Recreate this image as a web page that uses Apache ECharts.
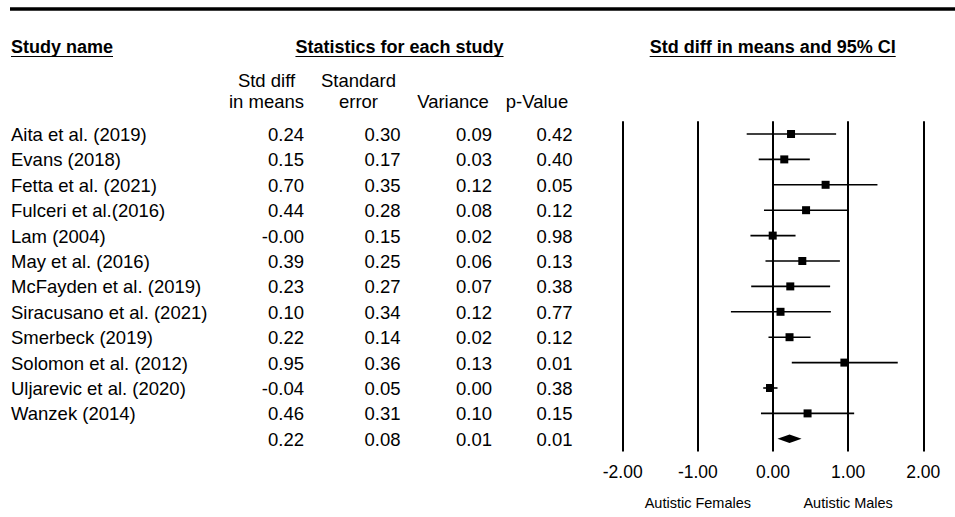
<!DOCTYPE html>
<html><head><meta charset="utf-8">
<script src="https://cdn.jsdelivr.net/npm/echarts@6/dist/echarts.min.js"></script>
<style>html,body{margin:0;padding:0;background:#fff}#c{width:955px;height:517px}</style>
</head><body><div id="c"></div>
<script>
// ---- data ----
const studies = ['Aita et al. (2019)','Evans (2018)','Fetta et al. (2021)','Fulceri et al.(2016)','Lam (2004)','May et al. (2016)','McFayden et al. (2019)','Siracusano et al. (2021)','Smerbeck (2019)','Solomon et al. (2012)','Uljarevic et al. (2020)','Wanzek (2014)'];
const stdDiff  = [0.24, 0.15, 0.70, 0.44, -0.004, 0.39, 0.23, 0.10, 0.22, 0.95, -0.04, 0.46];
const stdErr   = [0.30, 0.17, 0.35, 0.28, 0.15, 0.25, 0.27, 0.34, 0.14, 0.36, 0.05, 0.31];
const variance = [0.09, 0.03, 0.12, 0.08, 0.02, 0.06, 0.07, 0.12, 0.02, 0.13, 0.00, 0.10];
const pValue   = [0.42, 0.40, 0.05, 0.12, 0.98, 0.13, 0.38, 0.77, 0.12, 0.01, 0.38, 0.15];
const ciLower  = [-0.35, -0.19, 0.01, -0.12, -0.30, -0.10, -0.29, -0.56, -0.06, 0.25, -0.13, -0.16];
const ciUpper  = [0.84, 0.49, 1.39, 1.00, 0.30, 0.89, 0.76, 0.77, 0.50, 1.66, 0.06, 1.08];
const summaryStats = [0.22, 0.08, 0.01, 0.01]; // std diff, SE, variance, p
const summaryCI = [0.06, 0.38];
const xTicks = [-2, -1, 0, 1, 2];
const footerLabels = ['Autistic Females', 'Autistic Males'];
const footerAt = [-1, 1];
const headers = ['Study name', 'Statistics for each study', 'Std diff in means and 95% CI'];
const colHeaders = [['Std diff', 'in means'], ['Standard', 'error'], ['', 'Variance'], ['', 'p-Value']];

// ---- chart ----
const FONT = '"Liberation Sans", Arial, sans-serif';
const chart = echarts.init(document.getElementById('c'), null, {renderer: 'svg'});
const nRows = studies.length + 1;

const studyData = studies.map((s, i) => [i, stdDiff[i], ciLower[i], ciUpper[i]]);
const sumData = [[studies.length, summaryStats[0], summaryCI[0], summaryCI[1]]];

chart.setOption({
  animation: false,
  backgroundColor: '#fff',
  grid: {left: 622.7, right: 31.7, top: 121.3, bottom: 65.5},
  xAxis: {
    type: 'value', min: xTicks[0], max: xTicks[xTicks.length - 1], interval: 1,
    axisLine: {show: false}, axisTick: {show: false},
    splitLine: {show: true, lineStyle: {color: '#000', width: 2}},
    axisLabel: {color: '#000', fontFamily: FONT, fontSize: 17.5, margin: 11,
      formatter: v => v.toFixed(2)}
  },
  yAxis: {
    type: 'value', min: -0.5, max: nRows - 0.5, inverse: true,
    show: false, splitLine: {show: false}
  },
  series: [
    {
      type: 'custom', data: studyData, encode: {x: [1, 2, 3], y: 0},
      renderItem(params, api) {
        const r = api.value(0);
        const a = api.coord([api.value(2), r]);
        const b = api.coord([api.value(3), r]);
        const c = api.coord([api.value(1), r]);
        return {type: 'group', children: [
          {type: 'line', shape: {x1: a[0], y1: a[1], x2: b[0], y2: b[1]}, style: {stroke: '#000', lineWidth: 1.6}},
          {type: 'rect', shape: {x: c[0] - 4, y: c[1] - 4, width: 8, height: 8}, style: {fill: '#000'}}
        ]};
      }
    },
    {
      type: 'custom', data: sumData, encode: {x: [1, 2, 3], y: 0},
      renderItem(params, api) {
        const r = api.value(0);
        const a = api.coord([api.value(2), r]);
        const b = api.coord([api.value(3), r]);
        const c = api.coord([api.value(1), r]);
        return {type: 'polygon', shape: {points: [[a[0], a[1]], [c[0], c[1] - 4.2], [b[0], b[1]], [c[0], c[1] + 4.2]]},
          style: {fill: '#000'}};
      }
    }
  ]
});

// ---- table text, aligned with the plot rows ----
const ctx = document.createElement('canvas').getContext('2d');
function tw(text, font) { ctx.font = font; return ctx.measureText(text).width; }
function txt(text, x, y, align, size, bold) {
  const font = (bold ? 'bold ' : '') + size + 'px ' + FONT;
  return {type: 'text', x: x, y: y, silent: true,
    style: {text: text, font: font, fill: '#000', textAlign: align, align: align,
      textVerticalAlign: 'middle', verticalAlign: 'middle'}};
}
const rowY = i => chart.convertToPixel({gridIndex: 0}, [0, i])[1];
const xPix = v => chart.convertToPixel({gridIndex: 0}, [v, 0])[0];

const g = [];
// top rule
g.push({type: 'line', shape: {x1: 10, y1: 9, x2: 955, y2: 9}, style: {stroke: '#000', lineWidth: 3.3}});
// section headers with underline
const hdrFont = 'bold 18px ' + FONT;
const hdrX = [11, 399.5, 772.7];
const hdrAlign = ['left', 'center', 'center'];
headers.forEach((h, k) => {
  g.push(txt(h, hdrX[k], 46.7, hdrAlign[k], 18, true));
  const w = tw(h, hdrFont);
  const x0 = hdrAlign[k] === 'left' ? hdrX[k] : hdrX[k] - w / 2;
  g.push({type: 'line', shape: {x1: x0, y1: 56.5, x2: x0 + w, y2: 56.5}, style: {stroke: '#000', lineWidth: 1}});
});
// column headers
const colCenter = [266.5, 358.5, 453, 537];
colHeaders.forEach((pair, k) => {
  if (pair[0]) g.push(txt(pair[0], colCenter[k], 80, 'center', 18.5, false));
  g.push(txt(pair[1], colCenter[k], 101.7, 'center', 18.5, false));
});
// rows
const colRight = [304, 400.5, 492, 572.5];
studies.forEach((s, i) => {
  const y = rowY(i) + 0.5;
  g.push(txt(s, 11, y, 'left', 18.5, false));
  [stdDiff[i], stdErr[i], variance[i], pValue[i]].forEach((v, k) => {
    g.push(txt(v.toFixed(2), colRight[k], y, 'right', 18.5, false));
  });
});
const ys = rowY(studies.length) + 0.5;
summaryStats.forEach((v, k) => g.push(txt(v.toFixed(2), colRight[k], ys, 'right', 18.5, false)));
// footer labels
footerLabels.forEach((t, k) => g.push(txt(t, xPix(footerAt[k]), 502.8, 'center', 14.5, false)));

chart.setOption({graphic: g});
</script>
</body></html>
